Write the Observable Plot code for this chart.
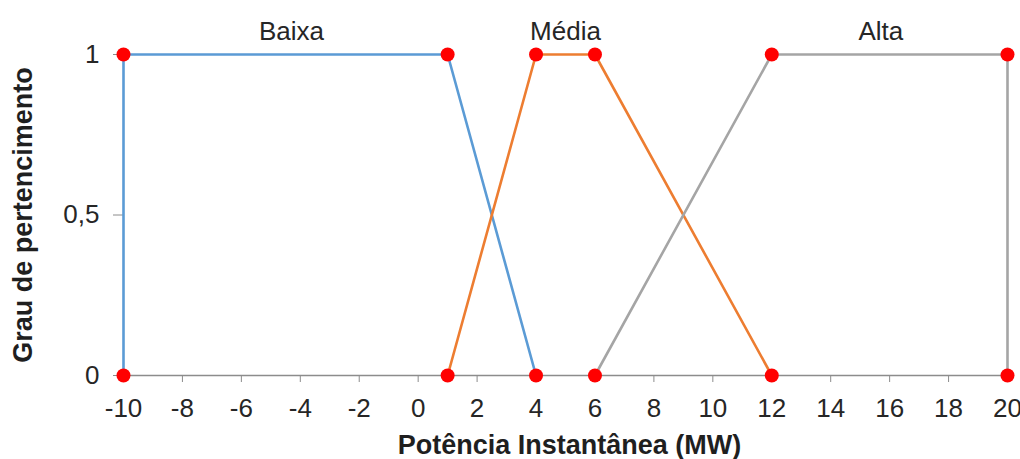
<!DOCTYPE html>
<html>
<head>
<meta charset="utf-8">
<script src="https://cdn.jsdelivr.net/npm/d3@7"></script>
<script src="https://cdn.jsdelivr.net/npm/@observablehq/plot@0.6"></script>
<style>
  html, body { margin: 0; padding: 0; background: #fff; }
  #chart svg { display: block; overflow: visible; }
</style>
</head>
<body>
<div id="chart"></div>
<script>
// Data
const series = ["Baixa", "Média", "Alta"];
const colors = ["#5B9BD5", "#ED7D31", "#A5A5A5"];
const baixaX = [-10, -10, 1, 4];
const baixaY = [0, 1, 1, 0];
const mediaX = [1, 4, 6, 12];
const mediaY = [0, 1, 1, 0];
const altaX = [6, 12, 20, 20];
const altaY = [0, 1, 1, 0];
const labelX = [-4.3, 5, 15.7];
const labelY = [1, 1, 1];
const xTicks = [-10, -8, -6, -4, -2, 0, 2, 4, 6, 8, 10, 12, 14, 16, 18, 20];
const yTicks = [0, 0.5, 1];
const yTickLabels = ["0", "0,5", "1"];
const xTitle = "Potência Instantânea (MW)";
const yTitle = "Grau de pertencimento";

const seriesX = [baixaX, mediaX, altaX];
const seriesY = [baixaY, mediaY, altaY];
const table = [];
series.forEach((s, k) => {
  seriesX[k].forEach((x, i) => table.push({series: s, x, y: seriesY[k][i]}));
});
const labels = series.map((s, i) => ({text: s, x: labelX[i], y: labelY[i]}));

const font = "'Liberation Sans', Arial, sans-serif";
const textColor = "#262626";
const axisGray = "#8c8c8c";

const chart = Plot.plot({
  width: 1020,
  height: 459,
  marginLeft: 123,
  marginRight: 13,
  marginTop: 54,
  marginBottom: 84,
  style: {fontFamily: font, fontSize: "26px", color: textColor, background: "#fff"},
  x: {domain: [-10, 20]},
  y: {domain: [0, 1]},
  color: {domain: series, range: colors},
  marks: [
    Plot.ruleY([0], {stroke: axisGray, strokeWidth: 1.5}),
    Plot.axisX({ticks: xTicks, tickSize: 7, tickPadding: 16, stroke: axisGray, fill: textColor, fontSize: 26, label: null, tickFormat: d => String(d).replace("−", "-")}),
    Plot.axisY({ticks: yTicks, tickSize: 10, tickPadding: 14, stroke: axisGray, fill: textColor, fontSize: 26, label: null, tickFormat: d => yTickLabels[yTicks.indexOf(d)]}),
    Plot.line(table, {x: "x", y: "y", z: "series", stroke: "series", strokeWidth: 2.6, strokeLinejoin: "miter"}),
    Plot.dot(table, {x: "x", y: "y", r: 7, fill: "#FF0000", stroke: null}),
    Plot.text(labels, {x: "x", y: "y", text: "text", dy: -15, lineAnchor: "bottom", textAnchor: "middle", fontSize: 26, fill: textColor}),
    Plot.text([xTitle], {frameAnchor: "bottom", text: d => d, dy: 78, dx: 4, lineAnchor: "bottom", textAnchor: "middle", fontSize: 27, fontWeight: "bold", fill: "#1f1f1f"}),
    Plot.text([yTitle], {frameAnchor: "left", text: d => d, rotate: -90, dx: -100, lineAnchor: "middle", textAnchor: "middle", fontSize: 27, fontWeight: "bold", fill: "#1f1f1f"})
  ]
});
document.getElementById("chart").appendChild(chart);
</script>
</body>
</html>
